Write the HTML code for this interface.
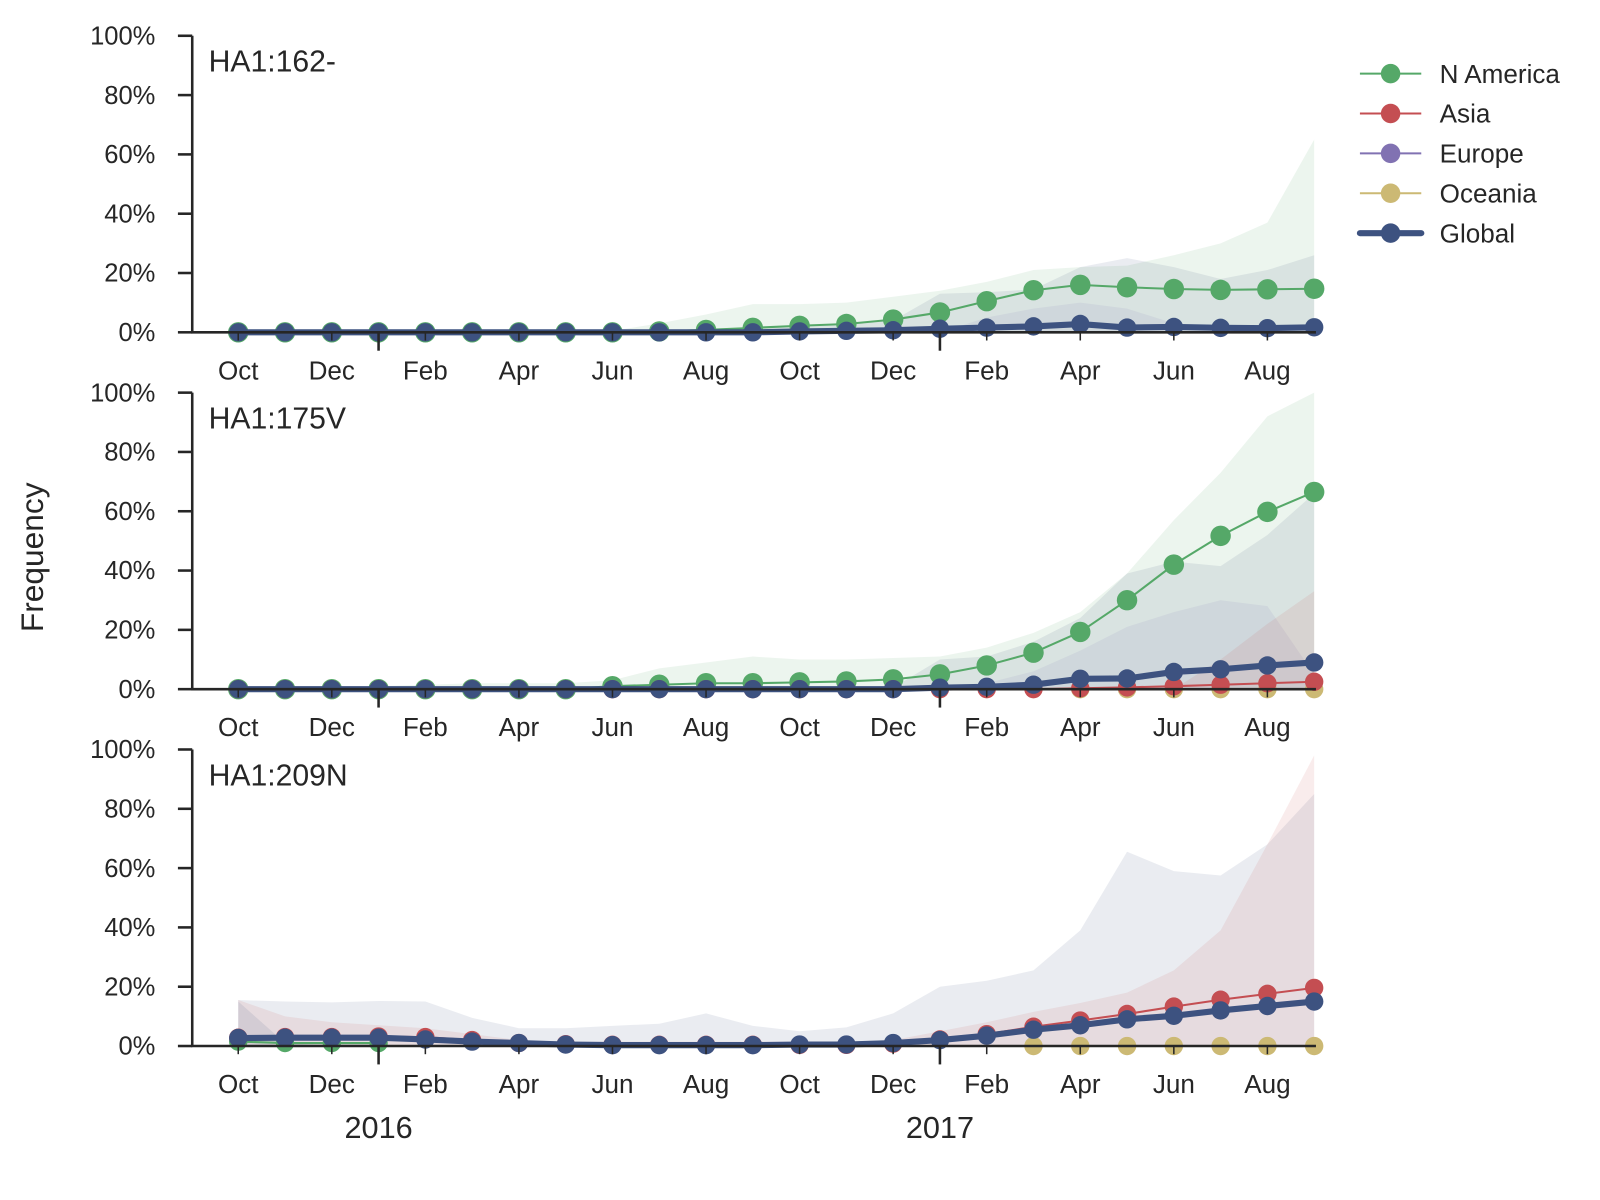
<!DOCTYPE html>
<html><head><meta charset="utf-8"><style>
body{margin:0;background:#fff;}
svg{display:block;font-family:"Liberation Sans",sans-serif;}
</style></head><body>
<svg width="1600" height="1200" viewBox="0 0 1600 1200" xmlns="http://www.w3.org/2000/svg"><g id="chart" transform="scale(1.0225)"></g></svg>
<script>
const months = ["Oct","Nov","Dec","Jan","Feb","Mar","Apr","May","Jun","Jul","Aug","Sep","Oct","Nov","Dec","Jan","Feb","Mar","Apr","May","Jun","Jul","Aug","Sep"];
const yTicks = [0,20,40,60,80,100];
const yearLabels = [{i:3,label:"2016"},{i:15,label:"2017"}];
const panelTitles = ["HA1:162-","HA1:175V","HA1:209N"];

// Panel 1
const p1NAmerica = [0,0,0,0,0,0,0,0,0,0.3,0.8,1.5,2.2,2.8,4.3,6.7,10.5,14.2,16,15.2,14.6,14.3,14.5,14.7];
const p1Global = [0,0,0,0,0,0,0,0,0,0,0,0,0.3,0.5,0.7,1.2,1.6,2,2.8,1.6,1.8,1.5,1.4,1.7];
const p1NAUpper = [0,0,0,0,0,0,0,0,0.5,3,6,9.5,9.5,10,12,14,17,21,22,22.5,26,30,37,65];
const p1GlobalUpper = [0.5,0.5,0.5,0.5,0.5,0.5,0.5,0.5,0.5,0.5,1,1.5,2,2.5,4,13,13.5,14.5,22,25,22,18,21,26];
const p1EuropeUpper = [0,0,0,0,0,0,0,0,0,0,0,0,0,0,0,0,5,8,10,8,3,1,1,1];

// Panel 2
const p2NAmerica = [0,0,0,0,0,0,0,0,1,1.5,2,2,2.3,2.6,3.3,5,8,12.3,19.3,30,42,51.7,59.8,66.5];
const p2Global = [0,0,0,0,0,0,0,0,0,0,0,0,0,0,0,0.5,0.8,1.5,3.5,3.6,5.8,6.7,8,9];
const p2Asia = [0,0,0,0,0,0,0,0,0,0,0,0,0,0,0,0,0,0,0.3,0.6,1,1.5,2,2.5];
const p2Oceania = [null,null,null,null,null,null,null,null,null,null,null,null,null,null,null,null,null,null,0,0,0,0,0,0];
const p2NAUpper = [1,1,1,1,1.5,2,2,2,3,7,9,11,10,10,10.5,11,14,19,26,39,57,73,92,100];
const p2GlobalUpper = [0.5,0.5,0.5,0.5,0.5,0.5,0.5,0.5,0.5,0.5,0.5,0.5,0.5,0.5,0.5,10,11,16,24,39,43,41.5,52,66];
const p2EuropeUpper = [0,0,0,0,0,0,0,0,0,0,0,0,0,0,0,0,2,6,13,21,26,30,28,5];
const p2AsiaUpper = [0,0,0,0,0,0,0,0,0,0,0,0,0,0,0,0,0,0,0,0,0,10,22,33];

// Panel 3
const p3Global = [2.7,2.8,2.8,2.8,2.2,1.5,1,0.5,0.3,0.3,0.3,0.3,0.5,0.5,1,2,3.5,5.5,7,9,10.2,12,13.5,15];
const p3Asia = [2.8,3,3,3.2,3,2,1,0.6,0.4,0.4,0.4,0.4,0.4,0.4,0.8,2.2,4,6.5,8.6,10.8,13.3,15.6,17.6,19.6];
const p3NAmerica = [1.5,1,1,1,null,null,null,null,null,null,null,null,null,null,null,null,null,null,null,null,null,null,null,null];
const p3Oceania = [null,null,null,null,null,null,null,null,null,null,null,null,null,null,null,null,null,0,0,0,0,0,0,0];
const p3GreyUpper = [15.5,15,14.7,15.2,15,9.5,6,6,6.8,7.5,11,6.8,5,6.3,11,20,22,25.5,39,65.5,59,57.5,68,85];
const p3AsiaUpper = [15.5,10,8,7,6,4,2,1.5,1.5,1.5,1.5,1.5,1.5,1.5,2,5,8,11.5,14.5,18,25.5,39,68,98];
const p3NAUpper = [15,1,0,0,0,0,0,0,0,0,0,0,0,0,0,0,0,0,0,0,0,0,0,0];

const C = {na:"#55a868",asia:"#c44e52",eu:"#8172b2",oc:"#ccb974",gl:"#3d5280"};
const panels = [
 {top:35,bands:[[p1NAUpper,C.na],[p1GlobalUpper,C.gl],[p1EuropeUpper,C.eu]],
  lines:[[p1NAmerica,C.na,2,10],[p1Global,C.gl,6,9]]},
 {top:384,bands:[[p2NAUpper,C.na],[p2GlobalUpper,C.gl],[p2EuropeUpper,C.eu],[p2AsiaUpper,C.asia]],
  lines:[[p2NAmerica,C.na,2,10],[p2Oceania,C.oc,2,9],[p2Asia,C.asia,2,9],[p2Global,C.gl,6,9]]},
 {top:733,bands:[[p3GreyUpper,C.gl],[p3AsiaUpper,C.asia],[p3NAUpper,C.gl]],
  lines:[[p3NAmerica,C.na,2,9],[p3Oceania,C.oc,2,9],[p3Asia,C.asia,2,9],[p3Global,C.gl,6,9]]}
];
const svg = document.getElementById('chart');
const NS = "http://www.w3.org/2000/svg";
function mk(tag, attrs, parent){const e=document.createElementNS(NS,tag);for(const k in attrs)e.setAttribute(k,attrs[k]);(parent||svg).appendChild(e);return e;}
const X0=188, X1=1287, H=290;
const xOf = i => 233 + i*45.75;

panels.forEach((p,pi)=>{
  const g = mk('g',{});
  
  
  const yOf = v => p.top + H - v/100*H;
  p.bands.forEach((b,bi)=>{
    let d='M'+xOf(0)+','+yOf(0);
    b[0].forEach((v,i)=>{d+=' L'+xOf(i)+','+yOf(v);});
    d+=' L'+xOf(b[0].length-1)+','+yOf(0)+' Z';
    const e = mk('path',{d:d,fill:b[1],'fill-opacity':0.11},g);
    
    
  });
  p.lines.forEach(l=>{
    let d='';let started=false;
    l[0].forEach((v,i)=>{if(v===null)return;d+=(started?' L':'M')+xOf(i)+','+yOf(v);started=true;});
    const ln = mk('path',{d:d,fill:'none',stroke:l[1],'stroke-width':l[2],'stroke-linejoin':'round'},g);
    
    
    l[0].forEach((v,i)=>{if(v===null)return;
      const c = mk('circle',{cx:xOf(i),cy:yOf(v),r:l[3],fill:l[1]},g);
      
      
    });
  });
  mk('line',{x1:X0,y1:p.top,x2:X0,y2:p.top+H+1,stroke:'#262626','stroke-width':2.5},g);
  mk('line',{x1:X0-1,y1:p.top+H,x2:X1,y2:p.top+H,stroke:'#262626','stroke-width':2.5},g);
  yTicks.forEach(t=>{
    const y=yOf(t);
    mk('line',{x1:X0-14,y1:y,x2:X0,y2:y,stroke:'#262626','stroke-width':2.5},g);
    const tx = mk('text',{x:X0-36,y:y+8.5,'font-size':25,'text-anchor':'end',fill:'#262626'},g);
    tx.textContent=t+'%';
    
    
  });
  months.forEach((m,i)=>{
    if(i%2!==0)return;
    const x=xOf(i);
    mk('line',{x1:x,y1:p.top+H,x2:x,y2:p.top+H+8,stroke:'#262626','stroke-width':1.5},g);
    const tx = mk('text',{x:x,y:p.top+H+46,'font-size':25.5,'text-anchor':'middle',fill:'#262626'},g);
    tx.textContent=m;
    
    
  });
  yearLabels.forEach(yl=>{
    const x=xOf(yl.i);
    mk('line',{x1:x,y1:p.top+H,x2:x,y2:p.top+H+18,stroke:'#262626','stroke-width':2.5},g);
  });
  const tt = mk('text',{x:204,y:p.top+35,'font-size':29.5,fill:'#262626'},g);
  tt.textContent=panelTitles[pi];
  
  
});
yearLabels.forEach(yl=>{
  const t = mk('text',{x:xOf(yl.i),y:1113,'font-size':30,'text-anchor':'middle',fill:'#262626'});
  t.textContent=yl.label;
  
  
});
const yt = mk('text',{x:42,y:545,'font-size':31,'text-anchor':'middle',fill:'#262626',transform:'rotate(-90 42 545)'});
yt.textContent='Frequency';



const legendNames = ["N America","Asia","Europe","Oceania","Global"];
const legendColors = [C.na,C.asia,C.eu,C.oc,C.gl];
legendNames.forEach((n,i)=>{
  const y=72+i*39;
  const g = mk('g',{});
  
  
  mk('line',{x1:1330,y1:y,x2:1390,y2:y,stroke:legendColors[i],'stroke-width':i===4?6:2,'stroke-linecap':i===4?'round':'butt'},g);
  mk('circle',{cx:1360,cy:y,r:9.5,fill:legendColors[i]},g);
  const t = mk('text',{x:1408,y:y+9,'font-size':25.5,fill:'#262626'},g);
  t.textContent=n;
});
</script>
</body></html>
